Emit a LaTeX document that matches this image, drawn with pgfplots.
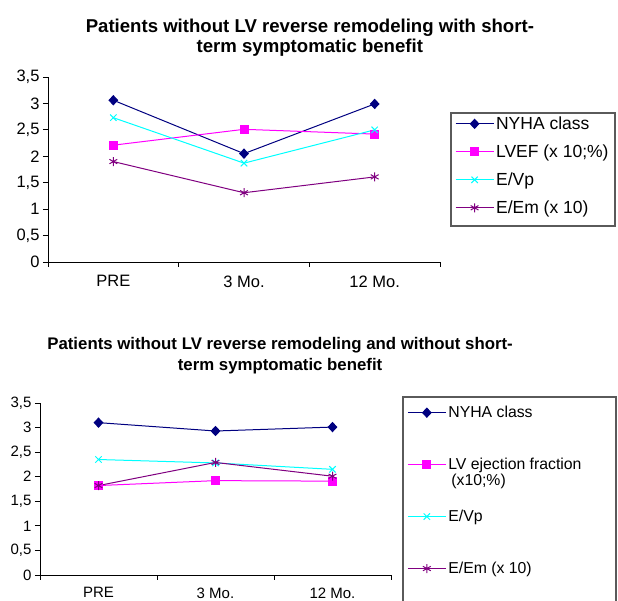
\documentclass[border=0pt]{standalone}
\usepackage{fontspec}
\setmainfont{Liberation Sans}
\usepackage{pgfplots}
\pgfplotsset{compat=1.18}

\definecolor{nyha}{RGB}{0,0,128}
\definecolor{lvef}{RGB}{255,0,255}
\definecolor{evp}{RGB}{0,255,255}
\definecolor{eem}{RGB}{128,0,128}
\definecolor{frame}{RGB}{90,90,90}

% common look of both panels (Excel style)
\pgfplotsset{
  panel/.style={
    scale only axis,
    xmin=0.5, xmax=3.5, ymin=0, ymax=3.5,
    axis lines*=left,
    axis line style={line width=0.8pt},
    tick align=outside, major tick length=5pt,
    tick style={line width=0.8pt, black},
    xtick={0.5,1.5,2.5,3.5}, xticklabels={},
    extra x ticks={1,2,3}, extra x tick labels={PRE,3 Mo.,12 Mo.},
    ytick={0,0.5,...,3.5},
    /pgf/number format/assume math mode=true,
    /pgf/number format/use comma,
    /pgf/number format/fixed,
    title style={font=\bfseries, align=center, anchor=north},
    legend cell align=left,
    legend style={draw=none, fill=none, anchor=north west, inner sep=0pt},
    legend image code/.code={%
      \draw[mark repeat=2,mark phase=2] plot coordinates {(0pt,0pt) (19pt,0pt) (38pt,0pt)};},
    every axis plot/.append style={line width=1pt},
  },
  nyhaplot/.style={nyha, mark=diamond*, mark size=4.5pt, mark options={solid, fill=nyha, xscale=1.25}},
  lvefplot/.style={lvef, mark=square*, mark size=4pt, mark options={solid, fill=lvef}},
  evpplot/.style={evp, mark=x, mark size=4.5pt},
  eemplot/.style={eem, mark=asterisk, mark size=4.5pt},
}

\begin{document}
\begin{tikzpicture}
\useasboundingbox (0pt,0pt) rectangle (618pt,601pt);

% ---- upper panel ----
\begin{axis}[panel,
  at={(48pt,339pt)}, anchor=south west,
  width=392pt, height=185pt,
  tick label style={font=\fontsize{16.5}{16.5}\selectfont},
  extra x tick style={major tick length=0pt, xticklabel style={yshift=-10pt}},
  title={Patients without LV reverse remodeling with short-\\term symptomatic benefit},
  title style={at={(0.668,1.302)}, font=\bfseries\fontsize{18.6}{20.5}\selectfont},
  legend style={at={(1.038,0.797)}, row sep=9.8pt, font=\fontsize{17.5}{17.5}\selectfont},
]
\addplot[nyhaplot] coordinates {(1,3.06) (2,2.05) (3,2.99)};
\addlegendentry{NYHA class}
\addplot[lvefplot] coordinates {(1,2.21) (2,2.51) (3,2.42)};
\addlegendentry{LVEF (x 10;\%)}
\addplot[evpplot] coordinates {(1,2.73) (2,1.87) (3,2.50)};
\addlegendentry{E/Vp}
\addplot[eemplot] coordinates {(1,1.90) (2,1.31) (3,1.61)};
\addlegendentry{E/Em (x 10)}
\end{axis}

% ---- lower panel ----
\begin{axis}[panel,
  at={(40pt,26pt)}, anchor=south west,
  width=351pt, height=172pt,
  tick label style={font=\fontsize{15}{15}\selectfont},
  extra x tick style={major tick length=0pt, xticklabel style={yshift=-9pt}},
  title={Patients without LV reverse remodeling and without short-\\term symptomatic benefit},
  title style={at={(0.684,1.367)}, font=\bfseries\fontsize{16.8}{21}\selectfont},
  legend style={at={(1.046,0.994)}, row sep=35pt, font=\fontsize{15.8}{15.8}\selectfont},
]
\addplot[nyhaplot] coordinates {(1,3.10) (2,2.93) (3,3.01)};
\addlegendentry{NYHA class}
\addplot[lvefplot] coordinates {(1,1.82) (2,1.92) (3,1.91)};
\addlegendentry{\begin{tabular}[t]{@{}l@{}}LV ejection fraction\\\hspace{3pt}(x10;\%)\end{tabular}}
\addplot[evpplot] coordinates {(1,2.35) (2,2.28) (3,2.15)};
\addlegendentry{E/Vp}
\addplot[eemplot] coordinates {(1,1.82) (2,2.29) (3,2.01)};
\addlegendentry{E/Em (x 10)}
\end{axis}

% legend frames
\draw[frame, line width=1.2pt] (451pt,488pt) rectangle (615pt,375pt);
\draw[frame, line width=1.2pt] (403pt,204pt) rectangle (616pt,-20pt);
\end{tikzpicture}
\end{document}
